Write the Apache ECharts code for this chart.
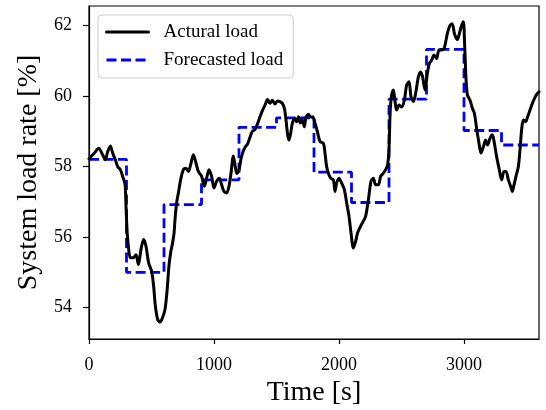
<!DOCTYPE html>
<html lang="en">
  <head>
    <meta charset="UTF-8" />
    <script src="https://cdn.jsdelivr.net/npm/echarts@6/dist/echarts.min.js"></script>
    <title>Load</title>
    <style>
      html, body { margin: 0; padding: 0; background: #fff; }
      #app { width: 546px; height: 410px; }
    </style>
  </head>
  <body>
    <div id="app"></div>

    <script>
      const actualTimes = [
        0, 43, 77, 109, 131, 149, 171, 189, 211, 229, 251, 269, 288, 296, 304, 315, 331, 355, 376, 395,
        416, 437, 456, 477, 501, 517, 531, 549, 568, 589, 608, 625, 640, 655, 667, 680, 688, 701, 715, 733,
        755, 776, 795, 813, 835, 853, 875, 901, 923, 941, 960, 981, 1000, 1021, 1043, 1061, 1080, 1101, 1120, 1136,
        1155, 1170, 1183, 1200, 1215, 1230, 1250, 1270, 1290, 1307, 1328, 1347, 1368, 1389, 1408, 1429, 1448, 1467, 1488, 1507,
        1528, 1547, 1563, 1576, 1589, 1600, 1613, 1627, 1643, 1661, 1675, 1691, 1707, 1723, 1736, 1755, 1773, 1789, 1808, 1827,
        1848, 1875, 1888, 1901, 1915, 1933, 1955, 1968, 1981, 2000, 2021, 2043, 2061, 2080, 2096, 2115, 2133, 2149, 2173, 2195,
        2213, 2235, 2256, 2275, 2293, 2315, 2333, 2355, 2373, 2389, 2400, 2410, 2420, 2435, 2450, 2461, 2480, 2501, 2523, 2541,
        2560, 2576, 2595, 2613, 2635, 2653, 2669, 2688, 2707, 2723, 2741, 2760, 2781, 2800, 2821, 2840, 2856, 2869, 2888, 2905,
        2925, 2947, 2965, 2981, 2995, 3005, 3016, 3027, 3048, 3067, 3083, 3101, 3120, 3136, 3155, 3173, 3189, 3208, 3227, 3243,
        3261, 3280, 3301, 3320, 3336, 3355, 3373, 3387, 3400, 3416, 3435, 3448, 3461, 3475, 3493, 3509, 3528, 3547, 3568, 3587,
        3600
      ];
      const actualValues = [
        58.22, 58.38, 58.52, 58.33, 58.19, 58.42, 58.58, 58.38, 58.19, 58.0, 57.91, 57.72, 57.5, 56.87, 56.21, 55.74, 55.41, 55.41, 55.5, 55.22,
        55.65, 55.93, 55.74, 55.27, 55.03, 54.61, 54.04, 53.67, 53.59, 53.72, 53.95, 54.5, 55.2, 55.6, 55.8, 56.1, 56.49, 56.97, 57.25, 57.62,
        57.91, 57.95, 57.86, 58.05, 58.33, 58.14, 57.86, 57.72, 57.44, 57.67, 57.91, 57.72, 57.39, 57.58, 57.67, 57.48, 57.29, 57.25, 57.44, 57.81,
        58.3, 58.0, 57.8, 57.9, 58.2, 58.4, 58.55, 58.65, 58.85, 59.0, 59.05, 59.2, 59.41, 59.6, 59.74, 59.9, 59.79, 59.88, 59.77, 59.86,
        59.84, 59.79, 59.65, 59.32, 58.9, 58.75, 58.94, 59.23, 59.37, 59.27, 59.41, 59.23, 59.32, 59.13, 59.4, 59.48, 59.4, 59.41, 59.23, 58.99,
        58.71, 58.66, 58.38, 58.0, 57.81, 57.67, 57.62, 57.29, 57.53, 57.67, 57.53, 57.34, 56.97, 56.59, 56.12, 55.69, 55.88, 56.12, 56.31, 56.45,
        56.59, 57.06, 57.58, 57.67, 57.48, 57.48, 57.72, 57.81, 57.91, 58.05, 58.5, 59.6, 60.0, 60.17, 59.8, 59.6, 59.74, 59.69, 59.88, 60.31,
        60.4, 59.98, 59.84, 60.07, 60.54, 60.68, 60.54, 60.17, 60.64, 60.92, 61.01, 61.16, 61.06, 61.3, 61.3, 61.34, 61.58, 61.8, 62.0, 62.05,
        61.75, 61.6, 61.8, 62.0, 62.1, 61.45, 60.5, 60.03, 59.88, 59.65, 59.51, 59.08, 58.66, 58.38, 58.56, 58.75, 58.61, 58.8, 58.9, 58.66,
        58.28, 57.95, 57.62, 57.86, 57.86, 57.62, 57.44, 57.29, 57.48, 57.72, 58.0, 58.47, 59.04, 59.32, 59.27, 59.41, 59.6, 59.79, 59.96, 60.07,
        60.12
      ];

      // forecast is held constant over each 300 s block
      const forecastTimes = [0, 300, 600, 900, 1200, 1500, 1800, 2100, 2400, 2700, 3000, 3300, 3600];
      const forecastValues = [58.2, 55.0, 56.92, 57.62, 59.11, 59.38, 57.84, 56.98, 59.91, 61.32, 59.02, 58.61, 58.61];

      const xTicks = [0, 1000, 2000, 3000];
      const yTicks = [54, 56, 58, 60, 62];

      const serif = "Liberation Serif";
      const chart = echarts.init(document.getElementById("app"), null, { renderer: "canvas" });

      chart.setOption({
        animation: false,
        textStyle: { fontFamily: serif },
        grid: {
          left: 89,
          right: 7,
          top: 6,
          bottom: 71,
          outerBoundsMode: "none",
          show: true,
          borderColor: "#000",
          borderWidth: 1.2,
          backgroundColor: "transparent",
        },
        legend: {
          orient: "vertical",
          left: 98,
          top: 15,
          padding: [7, 10, 8, 7],
          itemGap: 8,
          itemWidth: 42,
          itemHeight: 14,
          itemStyle: { opacity: 0 },
          lineStyle: { width: 3 },
          backgroundColor: "rgba(255,255,255,0.8)",
          borderColor: "#cccccc",
          borderWidth: 1,
          borderRadius: 4,
          textStyle: {
            fontFamily: serif,
            fontSize: 19,
            color: "#000",
            lineHeight: 20,
            padding: [0, 0, 0, 10],
          },
          data: ["Actural load", "Forecasted load"],
        },
        xAxis: {
          type: "value",
          min: 0,
          max: 3600,
          name: "Time [s]",
          nameLocation: "middle",
          nameGap: 37,
          nameTextStyle: { fontFamily: serif, fontSize: 28, color: "#000" },
          axisLine: { lineStyle: { color: "#000", width: 1.2 } },
          axisTick: { customValues: xTicks, length: 5, lineStyle: { color: "#000", width: 1.2 } },
          axisLabel: {
            customValues: xTicks,
            margin: 17,
            fontFamily: serif,
            fontSize: 18,
            color: "#000",
            formatter: (v) => String(v),
          },
          splitLine: { show: false },
        },
        yAxis: {
          type: "value",
          min: 53.11,
          max: 62.55,
          name: "System load rate [%]",
          nameLocation: "middle",
          nameGap: 46,
          nameTextStyle: { fontFamily: serif, fontSize: 28, color: "#000" },
          axisLine: { show: true, lineStyle: { color: "#000", width: 1.2 } },
          axisTick: { show: true, customValues: yTicks, length: 6, lineStyle: { color: "#000", width: 1.2 } },
          axisLabel: {
            customValues: yTicks,
            margin: 17,
            fontFamily: serif,
            fontSize: 18,
            color: "#000",
            formatter: (v) => String(v),
          },
          splitLine: { show: false },
        },
        series: [
          {
            name: "Actural load",
            type: "line",
            data: actualTimes.map((t, i) => [t, actualValues[i]]),
            symbol: "none",
            smooth: 0.3,
            lineStyle: { color: "#000", width: 3, cap: "round", join: "round" },
            itemStyle: { color: "#000" },
            z: 3,
          },
          {
            name: "Forecasted load",
            type: "line",
            step: "end",
            data: forecastTimes.map((t, i) => [t, forecastValues[i]]),
            symbol: "none",
            lineStyle: { color: "#0000ff", width: 2.8, type: [10, 4.5] },
            itemStyle: { color: "#0000ff" },
            z: 2,
          },
        ],
      });
    </script>
  </body>
</html>
